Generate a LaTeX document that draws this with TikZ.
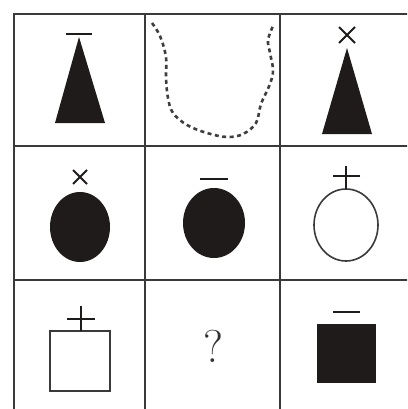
\documentclass[tikz,border=0pt]{standalone}
\usepackage{fontspec}
\usepackage{tikz}
\definecolor{inkBlack}{RGB}{32,27,27}
\definecolor{gridGray}{RGB}{58,58,58}

\begin{document}
\begin{tikzpicture}[x=1pt,y=-1pt,
    gridline/.style={gridGray, line width=2.8pt},
    signline/.style={inkBlack, line width=2.2pt},
    hollowshape/.style={draw=gridGray, line width=1.6pt, fill=white}]
        \clip (0,0) rectangle (407,409);
        \fill[white] (0,0) rectangle (407,409);
        % grid, cut off at right and bottom
        \draw[gridline] (14,420) -- (14,14) -- (420,14);
        \draw[gridline] (145,14) -- (145,420);
        \draw[gridline] (280,14) -- (280,420);
        \draw[gridline] (14,146) -- (420,146);
        \draw[gridline] (14,280) -- (420,280);
        % row 1
        \fill[inkBlack] (79,37) -- (105,123) -- (55,123) -- cycle;
        \draw[signline] (66,34) -- (92,34);
        \draw[inkBlack!85, line width=2.6pt, dash pattern=on 4pt off 3.5pt]
          plot[smooth, tension=0.6] coordinates {(152,23) (160,36) (166,57) (166,78)
            (168,98) (173,113) (187,125) (207,133) (227,137) (243,134) (256,123)
            (261,104) (270,84) (273,70) (270,53) (268,40) (273,26)};
        \fill[inkBlack] (347,48) -- (372,134) -- (322,134) -- cycle;
        \draw[signline, line width=2pt] (339,27) -- (355,43) (339,43) -- (355,27);
        % row 2
        \fill[inkBlack] (80,227) ellipse [x radius=30pt, y radius=35pt];
        \draw[signline, line width=2pt] (73,170) -- (87,184) (73,184) -- (87,170);
        \fill[inkBlack] (214,223) ellipse [x radius=31pt, y radius=35pt];
        \draw[signline] (200,179) -- (228,179);
        \draw[hollowshape] (346,225) ellipse [x radius=32pt, y radius=36pt];
        \draw[signline, line width=2pt] (346,166) -- (346,189) (333,176) -- (360,176);
        % row 3
        \draw[hollowshape] (50,331) rectangle (110,391);
        \draw[signline, line width=2pt] (81,306) -- (81,331) (67,319) -- (95,319);
        \node[text=inkBlack!90, font=\fontsize{46}{46}\selectfont] (query) at (213,346) {?};
        \fill[inkBlack] (317,324) rectangle (376,383);
        \draw[signline] (333,312) -- (360,312);
      \end{tikzpicture}
\end{document}
